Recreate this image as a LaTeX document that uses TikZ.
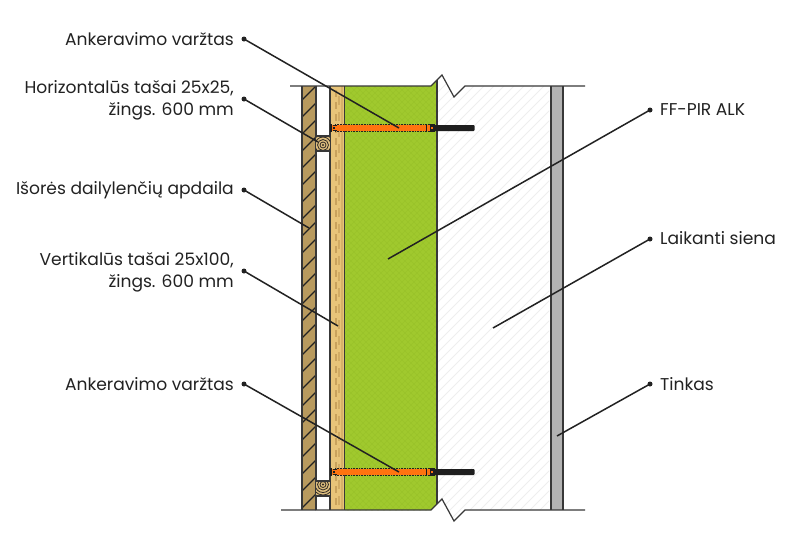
\documentclass[tikz,border=0pt]{standalone}
\usepackage{fontspec}
\setmainfont{Poppins}
\definecolor{ink}{HTML}{222222}
\definecolor{cladc}{HTML}{B89A5E}
\definecolor{battc}{HTML}{E8C479}
\definecolor{battd}{HTML}{C9A25C}
\definecolor{pirc}{HTML}{A0C92E}
\definecolor{pird}{HTML}{9AC32A}
\definecolor{rendc}{HTML}{B3B3B3}
\definecolor{hatchc}{HTML}{EEEEEE}
\definecolor{boltc}{HTML}{FF7410}
\definecolor{blackb}{HTML}{1E1E1E}
\definecolor{woodc}{HTML}{DDBE7E}
\tikzset{
  lbl/.style={font=\fontsize{17.1pt}{21.6pt}\selectfont, text=ink, anchor=east, align=right, inner sep=0pt},
  lblr/.style={font=\fontsize{17.1pt}{21.6pt}\selectfont, text=ink, anchor=west, align=left, inner sep=0pt},
  leader/.style={draw=ink, line width=1.5pt},
  dotc/.style={circle, fill=ink, inner sep=0pt, minimum size=5pt},
  edge/.style={draw=ink!90!white, line width=1.2pt},
  hatchl/.style={draw=ink, line width=1.1pt},
  ring/.style={draw=ink!90!brown, line width=0.8pt},
}
\newcommand{\anchorbolt}[1]{%
  \begin{scope}[shift={(0,#1)}]
    \fill[blackb, rounded corners=0.8pt] (431,-3) rectangle (474.5,3);
    \fill[blackb] (430,-4) rectangle (435,4);
    \fill[boltc] (331,-3.2) rectangle (430,3.2);
    \draw[ink, line width=0.6pt, densely dotted] (335,-3.5) -- (430,-3.5) (335,3.5) -- (430,3.5);
    \fill[blackb] (329.5,-4) rectangle (332,4);
    \draw[blackb, line width=1.2pt] (337,-2.6) -- (333,-2.6) (337,2.6) -- (333,2.6);
    \fill[blackb] (333,-1) rectangle (335,1);
    \draw[blackb, line width=1pt] (426.5,-3) -- (426.5,3);
    \fill[boltc] (430.5,-1) rectangle (433,1);
  \end{scope}}
\newcommand{\woodend}[2]{%
  \begin{scope}
    \fill[woodc] (316,#1-7.5) rectangle (330,#1+7.5);
    \clip (316,#1-7.5) rectangle (330,#1+7.5);
    \foreach \r in {0.6,3,5.5,8,10.5,13} \draw[ring] (323,#2) circle (\r);
  \end{scope}
  \draw[edge] (316,#1-7.5) -- (330,#1-7.5) (316,#1+7.5) -- (330,#1+7.5);}
\begin{document}
\begin{tikzpicture}[x=1pt,y=-1pt]
\useasboundingbox[fill=white] (0,0) rectangle (800,550);
% concrete
\begin{scope}
  \clip (437,80) -- (442,75) -- (454,97) -- (465,86) -- (549,86) -- (549,510) -- (465,510) -- (454,521) -- (442,499) -- (437,504) -- cycle;
  \foreach \k in {0,10,...,570} \draw[hatchc, line width=1pt] (\k,530) -- (\k+470,60);
\end{scope}
% render
\fill[rendc] (551,86) rectangle (563,510);
\draw[edge] (551,86) -- (551,510) (563,86) -- (563,510);
% PIR
\begin{scope}
  \clip (345,86) -- (431,86) -- (437,80) -- (437,504) -- (431,510) -- (345,510) -- cycle;
  \fill[pirc] (340,70) rectangle (440,520);
  \foreach \k in {-200,-194,...,560} {
    \draw[pird, line width=0.5pt] (340,\k) -- (440,\k+100);
    \draw[pird, line width=0.5pt] (340,\k+100) -- (440,\k);
  }
\end{scope}
\draw[edge] (437,80) -- (437,504);
% vertical batten
\fill[battc] (330,86) rectangle (345,510);
\fill[battd!55!battc] (341,86) rectangle (343,510);
\foreach \y in {90,102,...,505} {\fill[battd] (334.5,\y) rectangle (336.5,\y+7);}
\foreach \y in {96,112,...,505} {\fill[battd!70!battc] (338,\y) rectangle (339.5,\y+9);}
\draw[edge] (330,86) -- (330,510) (344.5,86) -- (344.5,510);
% cladding
\fill[cladc] (302,86) rectangle (316,510);
\begin{scope}
  \clip (302,86) rectangle (316,510);
  \foreach \y in {100,117,...,530} \draw[hatchl] (302,\y) -- (316,\y-14);
\end{scope}
\draw[edge] (302,86) -- (302,510) (316,86) -- (316,510);
% timber blocks
\woodend{143.5}{145}
\woodend{488.5}{484.5}
% bolts
\anchorbolt{128}
\anchorbolt{472}
% outline
\draw[edge] (290,86) -- (431,86) -- (442,75) -- (454,97) -- (465,86) -- (585,86);
\draw[edge] (281,510) -- (431,510) -- (442,499) -- (454,521) -- (465,510) -- (585,510);
% labels
\node[lbl] (l1) at (234,39.5) {Ankeravimo varžtas};
\node[lbl] (l2) at (234,100) {Horizontalūs tašai 25x25,\\žings. 600 mm};
\node[lbl] (l3) at (234,190.5) {Išorės dailylenčių apdaila};
\node[lbl] (l4) at (234,272) {Vertikalūs tašai 25x100,\\žings. 600 mm};
\node[lbl] (l5) at (234,384.5) {Ankeravimo varžtas};
\node[lblr] (r1) at (660,109.5) {FF-PIR ALK};
\node[lblr] (r2) at (660,238.5) {Laikanti siena};
\node[lblr] (r3) at (660,384.5) {Tinkas};
% leaders
\coordinate (a1) at (244,39);  \coordinate (b1) at (399,128);
\coordinate (a2) at (244,99);  \coordinate (b2) at (318,142);
\coordinate (a3) at (244,190); \coordinate (b3) at (309,228);
\coordinate (a4) at (244,271); \coordinate (b4) at (338,326);
\coordinate (a5) at (244,384); \coordinate (b5) at (399,472);
\coordinate (a6) at (650,110); \coordinate (b6) at (388,259);
\coordinate (a7) at (650,239); \coordinate (b7) at (493,328);
\coordinate (a8) at (650,384); \coordinate (b8) at (557,436);
\foreach \i in {1,...,8} {
  \draw[leader] (a\i) -- (b\i);
  \node[dotc] at (a\i) {};
}
\end{tikzpicture}
\end{document}
